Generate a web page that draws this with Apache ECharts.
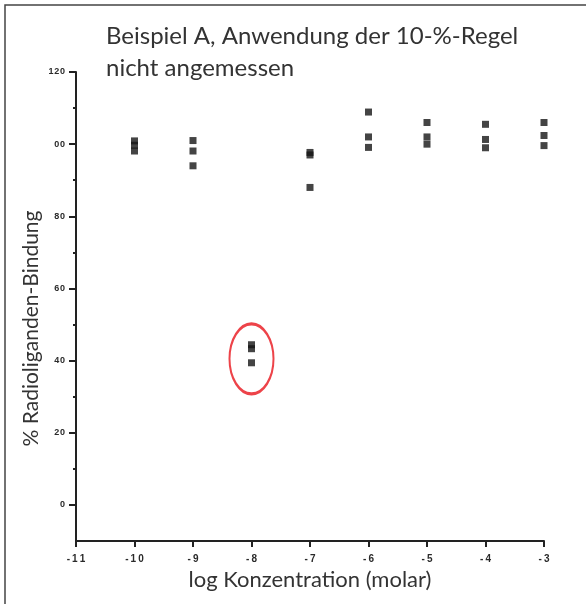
<!DOCTYPE html>
<html>
<head>
<meta charset="utf-8">
<script src="https://cdn.jsdelivr.net/npm/echarts@6/dist/echarts.min.js"></script>
<style>
  html, body { margin: 0; padding: 0; background: #fff; }
  #chart { width: 586px; height: 604px; }
</style>
</head>
<body>
<div id="chart"></div>
<script>
// log Konzentration (molar)
var concentrations = [-10, -9, -8, -7, -6, -5, -4, -3];
// drei Messwerte pro Konzentration (% Bindung)
var replicate1 = [100.9, 101.0, 44.4, 97.7, 108.9, 106.0, 105.5, 106.0];
var replicate2 = [99.7, 98.1, 43.3, 97.0, 102.0, 102.0, 101.3, 102.4];
var replicate3 = [98.1, 94.0, 39.4, 88.0, 99.1, 100.0, 99.0, 99.6];
// markierter Ausreißer-Bereich
var outlierMark = [[-8, 40.5]];

var yTickValues = [0, 20, 40, 60, 80, 100, 120];
var yTickLabels = ['0', '20', '40', '60', '80', '00', '120'];
var yMinorValues = [10, 30, 50, 70, 90, 110];
var xTickLabels = ['-11', '-10', '-9', '-8', '-7', '-6', '-5', '-4', '-3'];

var points = [];
concentrations.forEach(function (c, i) {
    points.push([c, replicate1[i]]);
    points.push([c, replicate2[i]]);
    points.push([c, replicate3[i]]);
});

function spaced(s, sep) {
    return s.split('').join(sep);
}

var chart = echarts.init(document.getElementById('chart'));

var axisLineStyle = { color: '#222', width: 2 };
var tickFont = {
    color: '#2a2a2a',
    fontFamily: 'Liberation Sans',
    fontWeight: 'bold',
    fontSize: 10
};

chart.setOption({
    animation: false,
    graphic: [{
        type: 'rect',
        shape: { x: 5, y: 5, width: 640, height: 640 },
        style: { fill: 'none', stroke: '#444', lineWidth: 1.5 },
        silent: true
    }],
    title: {
        text: 'Beispiel A, Anwendung der 10-%-Regel\nnicht angemessen',
        left: 101,
        top: 15,
        textStyle: {
            fontFamily: 'Lato',
            fontWeight: 'normal',
            fontSize: 24,
            lineHeight: 32,
            color: '#333'
        }
    },
    grid: {
        left: 76,
        right: 42,
        top: 72,
        bottom: 63
    },
    xAxis: {
        type: 'value',
        min: -11,
        max: -3,
        interval: 1,
        name: 'log Konzentration (molar)',
        nameLocation: 'middle',
        nameGap: 28,
        nameTextStyle: {
            fontFamily: 'Lato',
            fontSize: 22,
            color: '#333'
        },
        splitLine: { show: false },
        axisLine: { onZero: false, lineStyle: axisLineStyle },
        axisTick: { inside: false, length: 6, lineStyle: axisLineStyle },
        axisLabel: Object.assign({
            margin: 13,
            formatter: function (v) {
                return spaced(xTickLabels[Math.round(v + 11)], '\u2009');
            }
        }, tickFont)
    },
    yAxis: [{
        type: 'value',
        min: -10,
        max: 120,
        name: '% Radioliganden-Bindung',
        nameLocation: 'middle',
        nameGap: 34,
        nameMoveOverlap: false,
        nameTextStyle: {
            fontFamily: 'Lato',
            fontSize: 21,
            color: '#333',
            padding: [0, 44, 0, 0]
        },
        splitLine: { show: false },
        axisLine: { onZero: false, lineStyle: axisLineStyle },
        axisTick: {
            length: 7,
            customValues: yTickValues,
            lineStyle: axisLineStyle
        },
        axisLabel: Object.assign({
            margin: 11,
            customValues: yTickValues,
            formatter: function (v) {
                return spaced(yTickLabels[yTickValues.indexOf(v)], '\u200A');
            }
        }, tickFont, { fontSize: 9 })
    }, {
        // kleine Zwischenstriche
        type: 'value',
        min: -10,
        max: 120,
        position: 'left',
        splitLine: { show: false },
        axisLine: { show: false },
        axisTick: {
            length: 3,
            customValues: yMinorValues,
            lineStyle: { color: '#222', width: 2 }
        },
        axisLabel: { show: false }
    }],
    series: [{
        type: 'scatter',
        data: points,
        symbol: 'rect',
        symbolSize: 7,
        itemStyle: { color: '#151515' }
    }, {
        type: 'scatter',
        data: outlierMark,
        symbol: 'circle',
        symbolSize: [44, 70],
        itemStyle: {
            color: 'rgba(0,0,0,0)',
            borderColor: '#e8141c',
            borderWidth: 2.5
        },
        z: 1
    }]
});
</script>
</body>
</html>
